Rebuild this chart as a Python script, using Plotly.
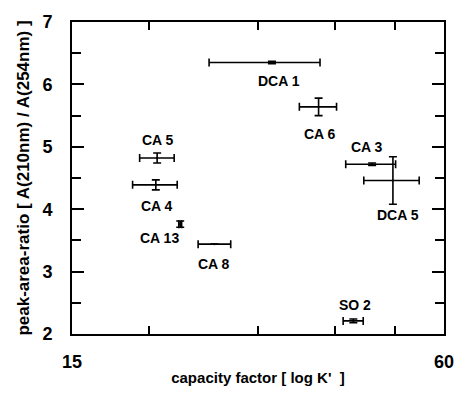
import math
import plotly.graph_objects as go

# Capacity factor k' (log axis) and peak-area ratio A(210nm)/A(254nm)
names = ["DCA 1", "CA 6", "CA 3", "DCA 5", "CA 5", "CA 4", "CA 13", "CA 8", "SO 2"]
k_prime = [31.6, 37.6, 45.9, 49.6, 20.6, 20.5, 22.45, 25.5, 42.8]
k_err_minus = [6.6, 2.6, 4.3, 5.1, 1.3, 1.7, 0.12, 1.5, 1.6]
k_err_plus = [6.2, 2.6, 4.2, 5.1, 1.35, 1.7, 0.12, 1.6, 1.6]
ratio = [6.35, 5.64, 4.72, 4.46, 4.82, 4.39, 3.76, 3.44, 2.21]
ratio_err = [0.02, 0.14, 0.02, 0.38, 0.08, 0.08, 0.05, 0.0, 0.03]

# label offsets in pixels (right, up) from each point
label_dx = [7, 1, -5, 5, 1, 1, -21, 0, 2]
label_dy = [-18, -27, 17, -34, 18, -21, -14, -20, 16]

x_ticks = [15, 20, 30, 40, 50, 60]
x_tick_text = ["15", "", "", "", "", "60"]

FONT = "Liberation Sans, Arial, Helvetica, sans-serif"

fig = go.Figure()
fig.add_trace(go.Scatter(
    x=k_prime, y=ratio, mode="markers",
    marker=dict(size=2, color="black"),
    error_x=dict(type="data", symmetric=False, array=k_err_plus,
                 arrayminus=k_err_minus, color="black", thickness=1.6, width=4),
    error_y=dict(type="data", array=ratio_err, color="black",
                 thickness=1.6, width=4),
    showlegend=False, hoverinfo="skip",
))

for n, xv, yv, dx, dy in zip(names, k_prime, ratio, label_dx, label_dy):
    fig.add_annotation(x=math.log10(xv), y=yv, text=n, showarrow=False,
                       xshift=dx, yshift=dy,
                       font=dict(family=FONT, size=14, color="black", weight="bold"))

fig.update_layout(
    width=466, height=396,
    margin=dict(l=72, r=16, t=19, b=50),
    paper_bgcolor="white", plot_bgcolor="white",
    font=dict(family=FONT, color="black"),
)
fig.update_xaxes(
    type="log", range=[math.log10(15), math.log10(60)],
    tickvals=x_ticks, ticktext=x_tick_text,
    ticks="inside", ticklen=8, tickwidth=1.5, tickcolor="black",
    showline=True, linewidth=2, linecolor="black", mirror="ticks",
    showgrid=False, zeroline=False,
    tickfont=dict(family=FONT, size=18, color="black", weight="bold"),
    ticklabelstandoff=10,
    title=dict(text="capacity factor [ log K'  ]",
               font=dict(family=FONT, size=15, color="black", weight="bold"), standoff=2),
)
fig.update_yaxes(
    range=[2, 7], dtick=1, tick0=2,
    ticks="inside", ticklen=12, tickwidth=1.5, tickcolor="black",
    minor=dict(dtick=0.5, ticks="inside", ticklen=9, tickwidth=1.5, tickcolor="black"),
    showline=True, linewidth=2, linecolor="black", mirror="ticks",
    showgrid=False, zeroline=False,
    tickfont=dict(family=FONT, size=18, color="black", weight="bold"),
    ticklabelstandoff=14,
    title=dict(text="peak-area-ratio [ A(210nm) / A(254nm) ]",
               font=dict(family=FONT, size=17, color="black", weight="bold"), standoff=8),
)

fig.write_html("out.html")
